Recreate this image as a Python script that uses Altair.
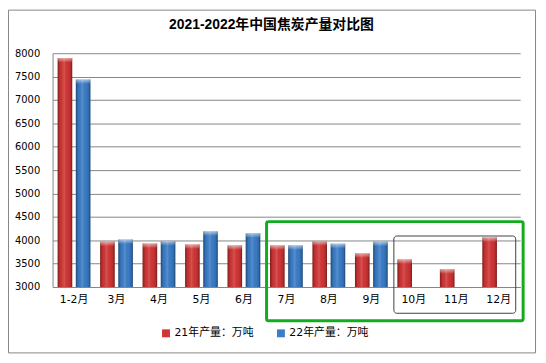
import altair as alt
import pandas as pd

months = ["1-2月", "3月", "4月", "5月", "6月", "7月", "8月", "9月", "10月", "11月", "12月"]
series = ["21年产量：万吨", "22年产量：万吨"]
prod21 = [7900, 3970, 3930, 3910, 3890, 3890, 3980, 3720, 3590, 3380, 4060]
prod22 = [7440, 4015, 3985, 4190, 4150, 3890, 3925, 3970, None, None, None]
title_text = "2021-2022年中国焦炭产量对比图"

rows = []
for m, a, b in zip(months, prod21, prod22):
    rows.append({"month": m, "series": series[0], "value": a})
    if b is not None:
        rows.append({"month": m, "series": series[1], "value": b})
df = pd.DataFrame(rows)

W, H = 472, 236
FONT = "DejaVu Sans, Noto Sans CJK SC"
GRID = "#868686"

x = alt.X("month:N", sort=months,
          scale=alt.Scale(paddingInner=0.23, paddingOuter=0.12),
          axis=alt.Axis(title=None, labelAngle=0, ticks=False, domainColor=GRID,
                        labelPadding=7, labelFontSize=11, labelColor="#000000",
                        labelFont=FONT, grid=False))
y = alt.Y("value:Q", scale=alt.Scale(domain=[3000, 8000], nice=False, zero=False),
          axis=alt.Axis(title=None, values=list(range(3000, 8001, 500)), ticks=False,
                        format="d",
                        labelPadding=13, labelFontSize=10, labelColor="#000000",
                        labelFont=FONT, gridColor=GRID, domainColor=GRID))
xo = alt.XOffset("series:N", scale=alt.Scale(domain=series, paddingInner=0.2))

base = alt.Chart(df)

bars = base.mark_bar().encode(
    x=x, y=y, y2=alt.Y2(datum=3000), xOffset=xo,
    color=alt.Color("series:N",
                    scale=alt.Scale(domain=series, range=["#D23535", "#3A7DC8"]),
                    legend=alt.Legend(title=None, orient="none", legendX=109, legendY=277,
                                      direction="horizontal", symbolType="square",
                                      symbolSize=64, symbolStrokeWidth=0,
                                      columnPadding=22, labelOffset=3,
                                      labelFontSize=11, labelFont=FONT,
                                      labelColor="#000000")),
)

shade = base.mark_bar(color=alt.Gradient(
    gradient="linear", x1=0, x2=1, y1=0, y2=0,
    stops=[alt.GradientStop(offset=0, color="rgba(0,0,0,0.40)"),
           alt.GradientStop(offset=0.18, color="rgba(0,0,0,0.06)"),
           alt.GradientStop(offset=0.45, color="rgba(255,255,255,0.14)"),
           alt.GradientStop(offset=0.7, color="rgba(0,0,0,0.02)"),
           alt.GradientStop(offset=0.88, color="rgba(0,0,0,0.15)"),
           alt.GradientStop(offset=1, color="rgba(0,0,0,0.45)")])).encode(
    x=x, y=y, y2=alt.Y2(datum=3000), xOffset=xo)

cap = base.transform_calculate(capv="datum.value - 90").mark_bar(color=alt.Gradient(
    gradient="linear", x1=0, x2=0, y1=0, y2=1,
    stops=[alt.GradientStop(offset=0, color="rgba(255,255,255,0.55)"),
           alt.GradientStop(offset=1, color="rgba(255,255,255,0.05)")])).encode(
    x=x, y=y, y2="capv:Q", xOffset=xo)

one = alt.Chart(pd.DataFrame({"t": [title_text]}))

title = one.mark_text(fontSize=14, fontWeight="bold", font="Liberation Sans, Noto Sans CJK SC",
                      color="#000000", align="center", baseline="middle").encode(
    text="t:N", x=alt.value(221), y=alt.value(-28))

border = one.mark_rect(fill="transparent", stroke=GRID, strokeWidth=1).encode(
    x=alt.value(-44.5), x2=alt.value(487.5), y=alt.value(-43.5), y2=alt.value(302.5))

green = one.mark_rect(fill="transparent", stroke="#12AD1E", strokeWidth=3, cornerRadius=2).encode(
    x=alt.value(216), x2=alt.value(475), y=alt.value(170), y2=alt.value(270))

black = one.mark_rect(fill="transparent", stroke="#404040", strokeWidth=1, cornerRadius=3).encode(
    x=alt.value(344.5), x2=alt.value(467.5), y=alt.value(184.5), y2=alt.value(262.5))

chart = alt.layer(bars, shade, cap, border, green, black, title).properties(
    width=W, height=H,
    autosize=alt.AutoSizeParams(type="none"),
    padding={"left": 45, "top": 44, "right": 18, "bottom": 70},
    background="white",
).configure_view(stroke=None)

chart.save("out.html", embed_options={"renderer": "svg", "actions": False})
